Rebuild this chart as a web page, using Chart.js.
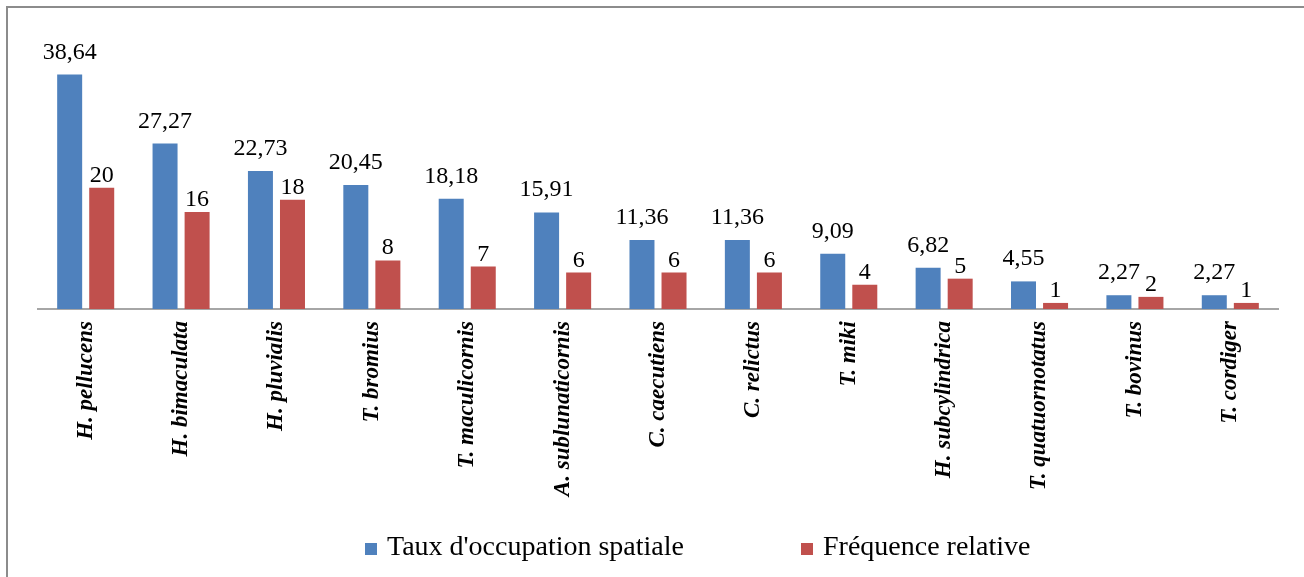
<!DOCTYPE html>
<html>
<head>
<meta charset="utf-8">
<script src="https://cdn.jsdelivr.net/npm/chart.js@4/dist/chart.umd.min.js"></script>
<style>
    html, body { margin: 0; padding: 0; background: #fff; overflow: hidden; }
    #frame {
        position: absolute; left: 6px; top: 6px;
        width: 1400px; height: 700px;
        border: 2px solid #8c8c8c;
    }
    #chartBox { position: absolute; left: 0; top: 0; width: 1304px; height: 577px; }
    #legend {
        position: absolute; left: 365px; top: 530px;
        display: flex; align-items: baseline;
        font-family: "Liberation Serif", "Times New Roman", serif;
        font-size: 28px; color: #000; white-space: nowrap;
    }
    .legend-item { display: flex; align-items: baseline; margin-right: 117px; }
    .legend-box { width: 12px; height: 12px; margin-right: 10px; display: inline-block; }
</style>
</head>
<body>
<div id="frame"></div>
<div id="chartBox"><canvas id="speciesChart" width="1304" height="577"></canvas></div>
<div id="legend"></div>

<script>
// ============================================
// Taux d'occupation spatiale / Fréquence relative
// ============================================

const species = [
    'H. pellucens', 'H. bimaculata', 'H. pluvialis', 'T. bromius',
    'T. maculicornis', 'A. sublunaticornis', 'C. caecutiens', 'C. relictus',
    'T. miki', 'H. subcylindrica', 'T. quatuornotatus', 'T. bovinus', 'T. cordiger'
];
const occupation = [38.64, 27.27, 22.73, 20.45, 18.18, 15.91, 11.36, 11.36, 9.09, 6.82, 4.55, 2.27, 2.27];
const frequence = [20, 16, 18, 8, 7, 6, 6, 6, 4, 5, 1, 2, 1];
const seriesNames = ["Taux d'occupation spatiale", 'Fréquence relative'];

const BLUE = '#4f81bd';
const RED = '#c0504d';
const SERIF = '"Liberation Serif", "Times New Roman", serif';

// Value labels above each bar (comma decimals)
const valueLabels = {
    id: 'valueLabels',
    afterDatasetsDraw(chart) {
        const ctx = chart.ctx;
        ctx.save();
        ctx.font = '24px ' + SERIF;
        ctx.fillStyle = '#000';
        ctx.textAlign = 'center';
        ctx.textBaseline = 'alphabetic';
        chart.data.datasets.forEach((ds, di) => {
            const meta = chart.getDatasetMeta(di);
            meta.data.forEach((bar, i) => {
                const text = String(ds.data[i]).replace('.', ',');
                ctx.fillText(text, bar.x, bar.y - ds.labelOffset);
            });
        });
        ctx.restore();
    }
};

const chart = new Chart(document.getElementById('speciesChart'), {
    type: 'bar',
    data: {
        labels: species,
        datasets: [
            {
                label: seriesNames[0],
                data: occupation,
                backgroundColor: BLUE,
                labelOffset: 16
            },
            {
                label: seriesNames[1],
                data: frequence,
                backgroundColor: RED,
                labelOffset: 6
            }
        ]
    },
    options: {
        responsive: false,
        animation: false,
        categoryPercentage: 0.672,
        barPercentage: 0.78,
        layout: { padding: { left: 38, right: 26, top: 36, bottom: 0 } },
        plugins: {
            legend: { display: false },
            tooltip: { enabled: false }
        },
        scales: {
            x: {
                grid: { display: false, drawTicks: false },
                border: { display: true, color: '#a6a6a6', width: 2 },
                ticks: {
                    color: '#000',
                    minRotation: 90,
                    maxRotation: 90,
                    padding: 12,
                    autoSkip: false,
                    font: { family: SERIF, size: 23, style: 'italic', weight: 'bold' }
                },
                afterFit(scale) { scale.height = 268; }
            },
            y: {
                display: false,
                min: 0,
                max: 45
            }
        }
    },
    plugins: [valueLabels]
});

// HTML legend built from the datasets
const legendEl = document.getElementById('legend');
chart.data.datasets.forEach(ds => {
    const item = document.createElement('div');
    item.className = 'legend-item';
    const box = document.createElement('span');
    box.className = 'legend-box';
    box.style.background = ds.backgroundColor;
    const label = document.createElement('span');
    label.textContent = ds.label;
    item.appendChild(box);
    item.appendChild(label);
    legendEl.appendChild(item);
});
</script>
</body>
</html>
